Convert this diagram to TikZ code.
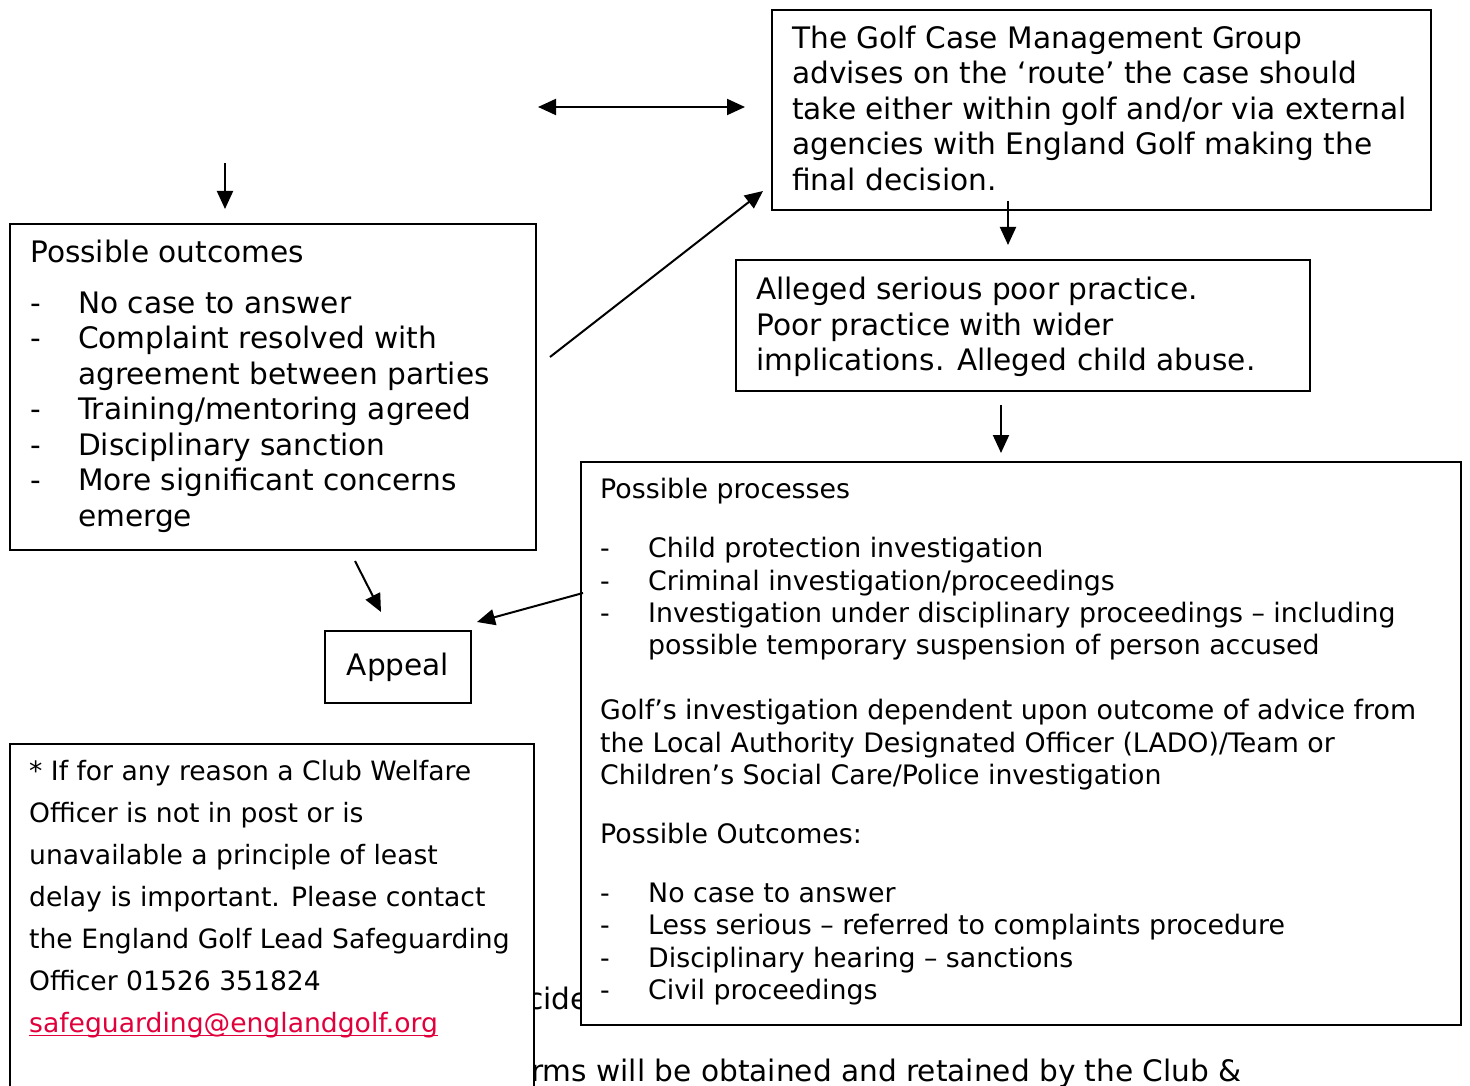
\documentclass[tikz,border=0pt]{standalone}
\usepackage{fontspec}
\setmainfont{DejaVu Sans}
\usetikzlibrary{arrows.meta}

\definecolor{linkred}{RGB}{226,0,60}
\newcommand\itm[2][48pt]{\makebox[#1][l]{-}#2}
\newcommand\firstln[1]{\rule{0pt}{#1}}
\newcommand\mailul[1]{\setbox0\hbox{#1}\rlap{\rule[-4pt]{\wd0}{1.6pt}}\box0}

\begin{document}
\begin{tikzpicture}[
    x=1pt, y=-1pt,
    box node/.style={draw=black, fill=white, line width=2pt, inner sep=0pt, anchor=north west},
    txt node/.style={inner sep=0pt, anchor=north west, align=left},
    big text/.style={font=\fontsize{29.6}{35.5}\selectfont},
    small text/.style={font=\fontsize{26.8}{32.4}\selectfont},
    flow arrow/.style={line width=2pt, -{Triangle[length=18pt, width=16pt]}},
    two way/.style={line width=2pt, {Triangle[length=18pt, width=16pt]}-{Triangle[length=18pt, width=16pt]}}
]
\path[use as bounding box, clip] (0,0) rectangle (1470,1086);

% page text lying under the boxes
\node[txt node, big text, anchor=base west] (decide) at (527,1009) {cide};
\node[txt node, big text, anchor=base west] (forms) at (531,1081) {rms will be obtained and retained by the Club \&};

% boxes
\node[box node, minimum width=659pt, minimum height=200pt] (golfbox) at (771,9) {};
\node[box node, minimum width=526pt, minimum height=326pt] (outbox) at (9,223) {};
\node[box node, minimum width=574pt, minimum height=131pt] (allegbox) at (735,259) {};
\node[box node, minimum width=880pt, minimum height=563pt] (procbox) at (580,461) {};
\node[box node, minimum width=524pt, minimum height=400pt] (welfbox) at (9,743) {};
\node[box node, anchor=center, big text, minimum width=146pt, minimum height=72pt] (appeal) at (398,667) {Appeal};

% box texts
\node[txt node, big text] (golftxt) at (792,23) {\firstln{25pt}The Golf Case Management Group\\
advises on the ‘route’ the case should\\
take either within golf and/or via external\\
agencies with England Golf making the\\
final decision.};

\node[txt node, big text] (outtxt) at (30,237) {\firstln{25pt}Possible outcomes\\[15.4pt]
\itm{No case to answer}\\
\itm{Complaint resolved with}\\
\hspace*{48pt}agreement between parties\\
\itm{Training/mentoring agreed}\\
\itm{Disciplinary sanction}\\
\itm{More significant concerns}\\
\hspace*{48pt}emerge};

\node[txt node, big text] (allegtxt) at (756,274.5) {\firstln{25pt}Alleged serious poor practice.\\
Poor practice with wider\\
implications. Alleged child abuse.};

\node[txt node, small text] (proctxt) at (600,475) {\firstln{23pt}Possible processes\\[27pt]
\itm[48pt]{Child protection investigation}\\
\itm[48pt]{Criminal investigation/proceedings}\\
\itm[48pt]{Investigation under disciplinary proceedings – including}\\
\hspace*{48pt}possible temporary suspension of person accused\\[32.4pt]
Golf’s investigation dependent upon outcome of advice from\\
the Local Authority Designated Officer (LADO)/Team or\\
Children’s Social Care/Police investigation\\[27pt]
Possible Outcomes:\\[26pt]
\itm[48pt]{No case to answer}\\
\itm[48pt]{Less serious – referred to complaints procedure}\\
\itm[48pt]{Disciplinary hearing – sanctions}\\
\itm[48pt]{Civil proceedings}};

\node[txt node, font=\fontsize{26.6}{42}\selectfont] (welftxt) at (29,757) {\firstln{23pt}* If for any reason a Club Welfare\\
Officer is not in post or is\\
unavailable a principle of least\\
delay is important. Please contact\\
the England Golf Lead Safeguarding\\
Officer 01526 351824\\
\textcolor{linkred}{\mailul{safeguarding@englandgolf.org}}};

% arrow ends
\coordinate (swap-l) at (538,107);
\coordinate (swap-r) at (745,107);
\coordinate (in-top) at (225,163);
\coordinate (out-in) at (225,209);
\coordinate (golf-dn) at (1008,201);
\coordinate (alleg-in) at (1008,245);
\coordinate (out-up) at (550,357);
\coordinate (golf-in) at (763,191);
\coordinate (alleg-dn) at (1001,405);
\coordinate (proc-in) at (1001,453);
\coordinate (out-dn) at (355,561);
\coordinate (appeal-l) at (381,612);
\coordinate (proc-out) at (583,593);
\coordinate (appeal-r) at (477,622);

% arrows
\draw[two way] (swap-l) -- (swap-r);
\draw[flow arrow] (in-top) -- (out-in);
\draw[flow arrow] (golf-dn) -- (alleg-in);
\draw[flow arrow] (out-up) -- (golf-in);
\draw[flow arrow] (alleg-dn) -- (proc-in);
\draw[flow arrow] (out-dn) -- (appeal-l);
\draw[flow arrow] (proc-out) -- (appeal-r);

\end{tikzpicture}
\end{document}
